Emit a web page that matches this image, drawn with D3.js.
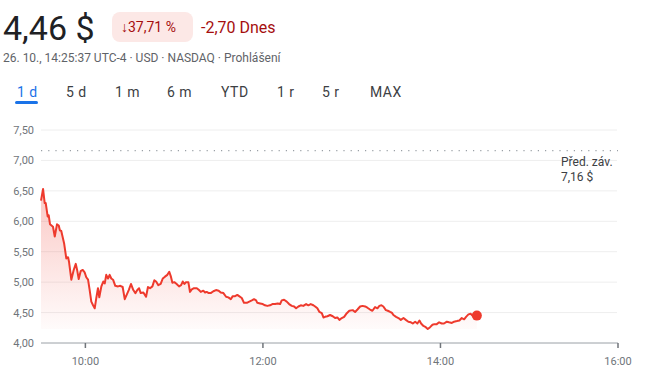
<!DOCTYPE html>
<html>
<head>
<meta charset="utf-8">
<script src="https://cdn.jsdelivr.net/npm/d3@7"></script>
<style>
  body { margin: 0; background: #fff; font-family: Roboto, "Noto Sans", sans-serif; }
  svg text { font-family: Roboto, "Noto Sans", sans-serif; }
</style>
</head>
<body>
<svg id="chart" width="650" height="387"></svg>
<script>
// minutes after 9:30 and price (USD)
var minutes = [0,1.4,2.5,3.2,4.5,5.2,6.1,8.1,9.3,10.8,12.0,12.8,13.7,15.6,17.1,18.3,18.9,20.5,22.1,23.5,24.5,25.5,26.8,28.2,29.5,30.6,31.8,32.9,34.0,35.2,36.3,37.4,38.5,39.4,40.8,42.1,43.1,44.1,45.3,46.4,47.5,48.7,50.2,52.1,53.6,55.2,56.6,57.9,59.3,60.8,62.4,63.8,65.1,66.3,67.4,69.2,71.0,72.3,73.7,75.3,76.6,77.8,79.3,80.9,82.3,83.8,85.4,86.7,87.7,88.8,90.1,91.7,93.3,94.7,95.8,96.9,98.0,99.6,100.7,101.9,103.4,105.3,106.8,108.0,109.7,110.9,112.0,113.4,114.7,116.5,118.3,120.1,121.5,123.3,125.1,126.6,128.3,129.6,131.2,132.7,133.9,135.7,137.2,139.1,140.8,142.5,144.0,145.4,146.2,148.1,149.9,151.4,153.0,154.8,156.4,158.2,160.0,161.6,162.7,164.3,166.1,167.7,169.5,171.1,172.4,174.0,175.6,177.3,179.2,180.7,182.3,184.1,185.3,186.8,188.2,189.8,190.9,192.0,193.6,195.4,197.2,198.8,200.3,201.7,203.3,204.9,206.7,208.4,210.7,212.3,213.9,215.7,217.3,219.1,220.6,222.4,224.0,225.8,227.4,228.7,230.1,231.4,233.1,234.4,236.0,237.1,238.2,240.0,241.6,243.2,245.0,246.6,248.3,250.0,251.3,252.9,254.4,255.8,256.9,258.5,260.1,261.4,263.0,264.6,265.9,267.5,269.1,270.9,272.4,274.3,275.8,277.7,279.2,281.1,282.8,284.4,286.0,287.3,288.9,290.5,291.9,294.6];
var prices = [6.34,6.53,6.30,6.30,6.08,6.10,5.95,5.91,5.75,5.95,5.93,5.85,5.84,5.64,5.39,5.41,5.34,5.04,5.20,5.30,5.19,5.05,5.18,5.20,5.16,5.08,5.04,4.87,4.68,4.62,4.57,4.74,4.90,4.75,4.93,5.01,4.98,5.12,5.06,5.12,5.06,5.04,4.94,4.93,4.94,4.92,4.72,4.79,4.87,4.97,4.87,4.82,4.87,4.90,4.82,4.83,4.76,4.92,4.90,4.93,5.03,5.01,4.95,4.97,5.06,5.09,5.12,5.17,5.10,4.99,5.00,4.97,4.93,4.95,5.01,4.97,5.00,5.00,4.84,4.88,4.90,4.90,4.87,4.84,4.86,4.83,4.84,4.82,4.82,4.85,4.87,4.86,4.83,4.82,4.76,4.75,4.72,4.77,4.77,4.79,4.77,4.74,4.66,4.66,4.68,4.70,4.72,4.70,4.66,4.65,4.64,4.62,4.61,4.62,4.64,4.64,4.65,4.64,4.70,4.71,4.68,4.64,4.61,4.60,4.57,4.60,4.62,4.61,4.64,4.62,4.64,4.62,4.60,4.57,4.51,4.49,4.42,4.43,4.44,4.46,4.44,4.41,4.42,4.38,4.41,4.43,4.49,4.53,4.54,4.51,4.55,4.60,4.61,4.60,4.58,4.55,4.53,4.59,4.57,4.61,4.62,4.60,4.54,4.53,4.51,4.50,4.46,4.43,4.41,4.38,4.41,4.38,4.35,4.34,4.32,4.35,4.32,4.37,4.32,4.28,4.26,4.23,4.26,4.30,4.31,4.31,4.34,4.32,4.32,4.35,4.34,4.33,4.35,4.36,4.37,4.41,4.39,4.43,4.47,4.48,4.44,4.45];
var prevClose = 7.16;
var yTicks = [4, 4.5, 5, 5.5, 6, 6.5, 7, 7.5];
var xTicks = [30, 150, 270, 390]; // 10:00, 12:00, 14:00, 16:00
var tabs = ["1 d", "5 d", "1 m", "6 m", "YTD", "1 r", "5 r", "MAX"];
var tabX = [17, 66, 115, 167, 221, 277, 322, 370];

var data = minutes.map(function(m, i) { return {m: m, v: prices[i]}; });
var fmt = function(v) { return d3.format(".2f")(v).replace(".", ","); };
var red = "#ee3a2d";

var svg = d3.select("#chart");

// header
svg.append("text").attr("x", 3).attr("y", 40).attr("font-size", 34).attr("fill", "#202124").text("4,46 $");
svg.append("rect").attr("x", 112).attr("y", 12).attr("width", 81).attr("height", 30).attr("rx", 8).attr("fill", "#fce8e6");
svg.append("text").attr("x", 121).attr("y", 32).attr("font-size", 14).attr("fill", "#a50e0e").text("\u219337,71 %");
svg.append("text").attr("x", 201).attr("y", 33).attr("font-size", 16).attr("fill", "#a50e0e").text("-2,70 Dnes");
svg.append("text").attr("x", 3).attr("y", 62).attr("font-size", 12).attr("fill", "#5f6368")
  .text("26. 10., 14:25:37 UTC-4 \u00b7 USD \u00b7 NASDAQ \u00b7 Prohl\u00e1\u0161en\u00ed");

svg.selectAll(".tab").data(tabs).enter().append("text")
  .attr("class", "tab")
  .attr("x", function(d, i) { return tabX[i]; })
  .attr("y", 97)
  .attr("font-size", 14)
  .attr("letter-spacing", 0.5)
  .attr("fill", function(d, i) { return i == 0 ? "#1a73e8" : "#3c4043"; })
  .text(function(d) { return d; });
svg.append("rect").attr("x", 15).attr("y", 101).attr("width", 23).attr("height", 3).attr("rx", 1.5).attr("fill", "#1a73e8");

// chart
var plotLeft = 41, plotRight = 618, plotTop = 130, plotBottom = 343;
var x = d3.scaleLinear().domain([0, 390]).range([plotLeft, plotRight]);
var y = d3.scaleLinear().domain([4, 7.5]).range([plotBottom, plotTop]);

svg.append("g").selectAll("line").data(yTicks.slice(1)).enter().append("line")
  .attr("x1", plotLeft).attr("x2", plotRight - 1)
  .attr("y1", function(d) { return y(d); }).attr("y2", function(d) { return y(d); })
  .attr("stroke", "#eeeeee").attr("stroke-width", 1);

svg.append("g").selectAll("text").data(yTicks).enter().append("text")
  .attr("x", 34).attr("y", function(d) { return y(d) + 4; })
  .attr("text-anchor", "end").attr("font-size", 11).attr("fill", "#70757a")
  .text(fmt);

// previous close
svg.append("line")
  .attr("x1", plotLeft).attr("x2", plotRight)
  .attr("y1", y(prevClose)).attr("y2", y(prevClose))
  .attr("stroke", "#9aa0a6").attr("stroke-width", 1.2)
  .attr("stroke-dasharray", "1.2,6");
svg.append("text").attr("x", 561).attr("y", 166).attr("font-size", 12).attr("fill", "#3c4043").text("P\u0159ed. z\u00e1v.");
svg.append("text").attr("x", 561).attr("y", 181).attr("font-size", 12).attr("fill", "#3c4043").text(fmt(prevClose) + " $");

// area
var defs = svg.append("defs");
var grad = defs.append("linearGradient").attr("id", "fillGrad").attr("x1", 0).attr("y1", 0).attr("x2", 0).attr("y2", 1);
grad.append("stop").attr("offset", "0%").attr("stop-color", red).attr("stop-opacity", 0.28);
grad.append("stop").attr("offset", "100%").attr("stop-color", red).attr("stop-opacity", 0.02);

var minV = d3.min(prices);
svg.append("path").datum(data)
  .attr("fill", "url(#fillGrad)")
  .attr("d", d3.area().x(function(d) { return x(d.m); }).y0(y(minV)).y1(function(d) { return y(d.v); }));

svg.append("path").datum(data)
  .attr("fill", "none").attr("stroke", red).attr("stroke-width", 2).attr("stroke-linejoin", "round")
  .attr("d", d3.line().x(function(d) { return x(d.m); }).y(function(d) { return y(d.v); }));

var last = data[data.length - 1];
svg.append("circle").attr("cx", x(last.m)).attr("cy", y(last.v)).attr("r", 5).attr("fill", red);

// x axis
svg.append("line").attr("x1", plotLeft).attr("x2", plotRight).attr("y1", plotBottom).attr("y2", plotBottom)
  .attr("stroke", "#9aa0a6").attr("stroke-width", 1);
svg.append("g").selectAll("line").data(xTicks).enter().append("line")
  .attr("x1", function(d) { return x(d); }).attr("x2", function(d) { return x(d); })
  .attr("y1", plotBottom).attr("y2", plotBottom + 5)
  .attr("stroke", "#70757a").attr("stroke-width", 1.5);
svg.append("g").selectAll("text").data(xTicks).enter().append("text")
  .attr("x", function(d) { return x(d); }).attr("y", 365)
  .attr("text-anchor", "middle").attr("font-size", 11).attr("fill", "#70757a")
  .text(function(d) { var h = 9 + Math.floor((d + 30) / 60); return h + ":00"; });
</script>
</body>
</html>
